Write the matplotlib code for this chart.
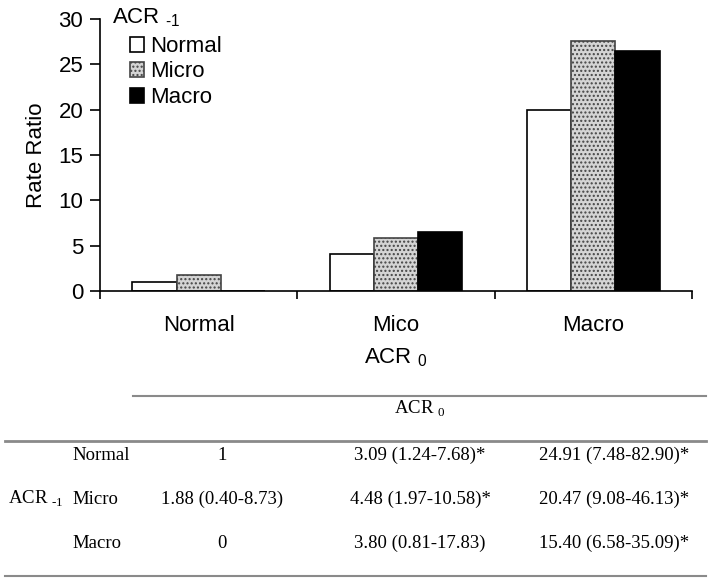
import numpy as np
import matplotlib.pyplot as plt
from matplotlib.lines import Line2D

plt.rcParams['font.family'] = ['Liberation Sans', 'DejaVu Sans']

groups = ["Normal", "Mico", "Macro"]
series = ["Normal", "Micro", "Macro"]
normal_vals = [1.0, 4.05, 20.0]
micro_vals = [1.75, 5.8, 27.6]
macro_vals = [0.0, 6.5, 26.5]

row_labels = ["Normal", "Micro", "Macro"]
col_normal = ["1", "1.88 (0.40-8.73)", "0"]
col_micro = ["3.09 (1.24-7.68)*", "4.48 (1.97-10.58)*", "3.80 (0.81-17.83)"]
col_macro = ["24.91 (7.48-82.90)*", "20.47 (9.08-46.13)*", "15.40 (6.58-35.09)*"]

W, H = 716, 587
fig = plt.figure(figsize=(W / 100, H / 100), dpi=100)


def fx(px):
    return px / W


def fy(py):
    return 1 - py / H


ax = fig.add_axes([fx(100), fy(291), fx(692) - fx(100), fy(19) - fy(291)])

x = np.arange(len(groups))
bw = 0.224
ax.bar(x - bw, normal_vals, bw, color="white", edgecolor="black", lw=1.2, label=series[0])
ax.bar(x, micro_vals, bw, color="#d4d4d4", edgecolor="#444444", hatch="....", lw=1.2, label=series[1])
ax.bar(x + bw, macro_vals, bw, color="black", edgecolor="black", lw=1.2, label=series[2])

ax.set_xlim(-0.5, 2.5)
ax.set_ylim(0, 30)
ax.set_yticks([0, 5, 10, 15, 20, 25, 30])
ax.set_xticks([-0.5, 0.5, 1.5, 2.5])
ax.set_xticklabels([])
ax.set_xticks(x, minor=True)
ax.set_xticklabels(groups, minor=True, fontsize=16)
ax.tick_params(axis="x", which="minor", length=0, pad=17)
ax.tick_params(axis="x", which="major", length=6, width=1.2, direction="out")
ax.tick_params(axis="y", length=7, width=1.2, direction="out", labelsize=16, pad=5)
for s in ["top", "right"]:
    ax.spines[s].set_visible(False)
for s in ["left", "bottom"]:
    ax.spines[s].set_linewidth(1.2)
ax.set_ylabel("Rate Ratio", fontsize=16, labelpad=8)
ax.set_xlabel("ACR $_{\\mathregular{0}}$", fontsize=16, labelpad=8)

fig.text(fx(112), fy(18), "ACR $_{\\mathregular{\u20101}}$", fontsize=16, va="center", ha="left")
ax.legend(loc="upper left", bbox_to_anchor=(fx(130), fy(36)), bbox_transform=fig.transFigure,
          frameon=False, fontsize=16, handlelength=0.65, handleheight=0.65,
          handletextpad=0.27, labelspacing=0.2, borderpad=0, borderaxespad=0)

# table below the chart
serif = ["Liberation Serif", "DejaVu Serif"]
line_col = "#8a8a8a"
fig.add_artist(Line2D([fx(133), fx(706)], [fy(396), fy(396)], color=line_col, lw=1.5))
fig.add_artist(Line2D([fx(5), fx(706)], [fy(441), fy(441)], color=line_col, lw=2))
fig.add_artist(Line2D([fx(5), fx(706)], [fy(576), fy(576)], color=line_col, lw=1.5))
fig.text(fx(420), fy(409), "ACR $_{\\mathregular{0}}$", family=serif, fontsize=13.5, ha="center", va="center")

row_y = [455, 499, 543]
col_x = [222, 420, 614]
for i, lab in enumerate(row_labels):
    fig.text(fx(72), fy(row_y[i]), lab, family=serif, fontsize=13.5, ha="left", va="center")
    for cx, col in zip(col_x, [col_normal, col_micro, col_macro]):
        fig.text(fx(cx), fy(row_y[i]), col[i], family=serif, fontsize=13.5, ha="center", va="center")
fig.text(fx(8), fy(row_y[1]), "ACR $_{\\mathregular{\u20101}}$", family=serif, fontsize=13.5, ha="left", va="center")

fig.savefig("out.png", dpi=100)
